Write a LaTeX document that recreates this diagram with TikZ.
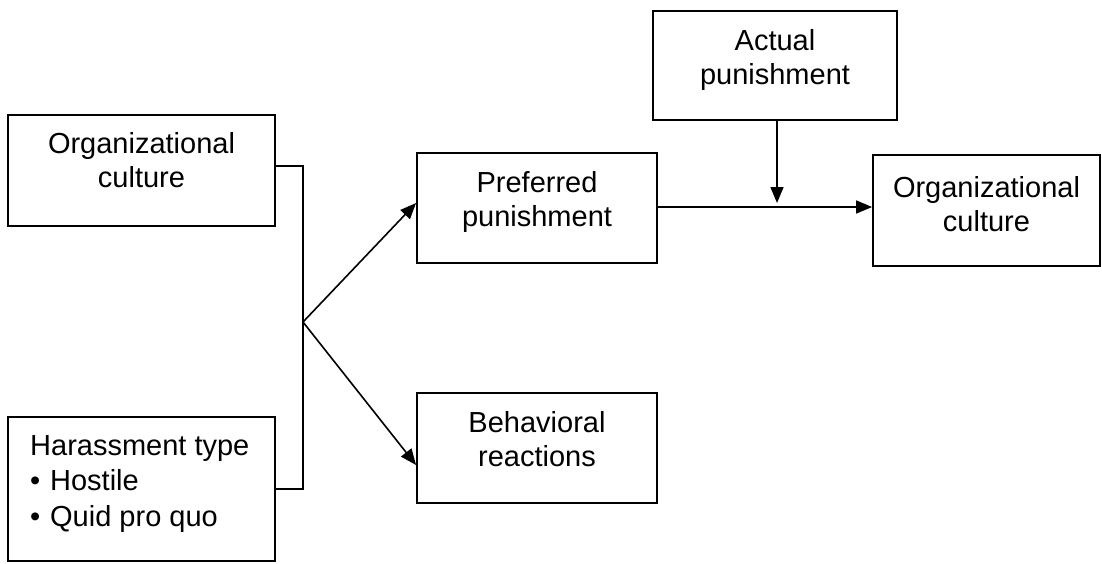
\documentclass[tikz,border=0pt]{standalone}
\usepackage{fontspec}
\setmainfont{Liberation Sans}
\usetikzlibrary{arrows.meta}
\begin{document}
\begin{tikzpicture}[x=1pt,y=-1pt,
  box/.style={draw, line width=1.8pt, inner sep=0pt},
  txt/.style={inner sep=0pt, anchor=base, align=center, font=\fontsize{29}{34}\selectfont},
  ltxt/.style={inner sep=0pt, anchor=base west, align=left, font=\fontsize{29}{35.5}\selectfont},
  conn/.style={line width=1.8pt},
  arr/.style={line width=1.6pt, -{Triangle[length=16pt,width=13pt]}}]
\useasboundingbox (0,0) rectangle (1102,563);
% boxes
\node[box, minimum width=267pt, minimum height=111pt] (orgL) at (141.5,170.5) {};
\node[box, minimum width=267pt, minimum height=144pt] (harass) at (141.5,489) {};
\node[box, minimum width=240pt, minimum height=110pt] (pref) at (537,208) {};
\node[box, minimum width=240pt, minimum height=110pt] (behav) at (537,448) {};
\node[box, minimum width=244pt, minimum height=109pt] (actual) at (775,65.5) {};
\node[box, minimum width=227pt, minimum height=111pt] (orgR) at (986.5,210.5) {};
% texts
\node[txt] (orgLt) at (141.5,187) {Organizational\\culture};
\node[ltxt] (harasst) at (30,526) {Harassment type\\\makebox[20pt][l]{•}Hostile\\\makebox[20pt][l]{•}Quid pro quo};
\node[txt] (preft) at (537,226) {Preferred\\punishment};
\node[txt] (behavt) at (537,466) {Behavioral\\reactions};
\node[txt] (actualt) at (775,84) {Actual\\punishment};
\node[txt] (orgRt) at (986.5,231) {Organizational\\culture};
% bracket
\coordinate (j) at (303,322);
\coordinate (bt) at (303,166);
\coordinate (bb) at (303,489);
\draw[conn] (orgL.east |- bt) -- (bt) -- (bb) -- (harass.east |- bb);
\draw[arr] (j) -- (pref.west |- 0,203);
\draw[arr] (j) -- (behav.west |- 0,465);
% right side
\draw[arr] (pref.east |- 0,207) -- (orgR.west |- 0,207);
\coordinate (vt) at (777,203);
\draw[arr] (actual.south -| vt) -- (vt);
\end{tikzpicture}
\end{document}
